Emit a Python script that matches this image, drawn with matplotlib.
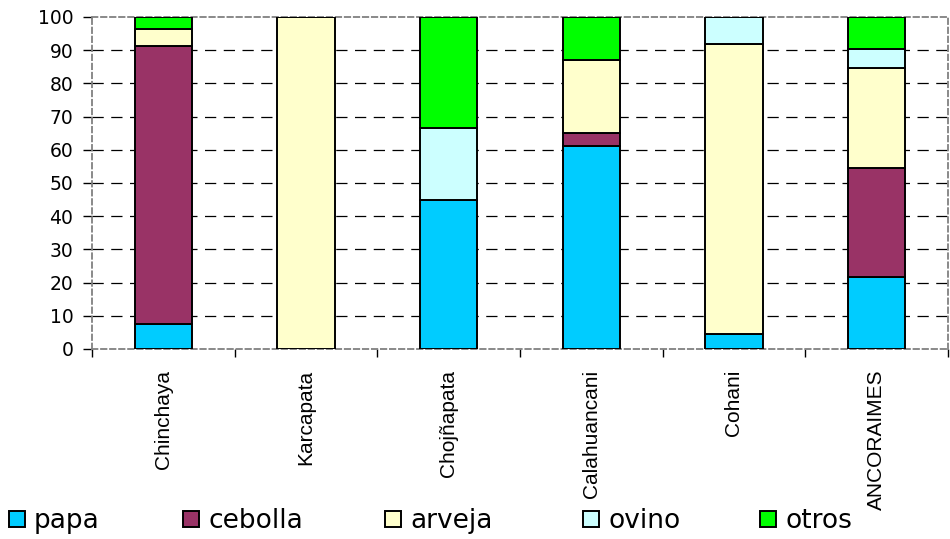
import matplotlib
matplotlib.use("Agg")
import matplotlib.pyplot as plt
import numpy as np

categories = ["Chinchaya", "Karcapata", "Chojñapata", "Calahuancani", "Cohani", "ANCORAIMES"]
series_names = ["papa", "cebolla", "arveja", "ovino", "otros"]
papa    = [7.4,   0.0, 44.8, 61.1,  4.4, 21.7]
cebolla = [83.9,  0.0,  0.0,  4.1,  0.0, 32.8]
arveja  = [5.1, 100.0,  0.0, 21.9, 87.6, 30.2]
ovino   = [0.0,   0.0, 21.9,  0.0,  8.0,  5.6]
otros   = [3.6,   0.0, 33.3, 12.9,  0.0,  9.7]
yticks = [0, 10, 20, 30, 40, 50, 60, 70, 80, 90, 100]

colors = ["#00CCFF", "#993366", "#FFFFCC", "#CCFFFF", "#00FF00"]

W, H = 950, 539
fig = plt.figure(figsize=(W / 100, H / 100), dpi=100)
ax = fig.add_axes([92 / W, (H - 349) / H, (948 - 92) / W, (349 - 17) / H])

x = np.arange(len(categories))
bottom = np.zeros(len(categories))
containers = []
for name, vals, c in zip(series_names, [papa, cebolla, arveja, ovino, otros], colors):
    vals = np.array(vals)
    b = ax.bar(x, vals, width=0.4, bottom=bottom, color=c, edgecolor="black",
               linewidth=1.4, label=name, zorder=3)
    containers.append(b)
    bottom += vals

ax.set_xlim(-0.5, len(categories) - 0.5)
ax.set_ylim(0, 100)

# grid
for v in yticks[1:-1]:
    ax.axhline(v, color="black", linestyle=(0, (9, 6)), linewidth=0.9, zorder=1)

for s in ax.spines.values():
    s.set_color("#808080")
    s.set_linestyle((0, (3, 2)))
    s.set_linewidth(1.3)

ax.set_yticks(yticks)
ax.set_yticklabels([str(v) for v in yticks], fontfamily="DejaVu Sans", fontsize=13.5)
ax.tick_params(axis="y", direction="out", length=6.5, width=1, color="black", pad=7)

ax.set_xticks(x)
ax.set_xticklabels(categories, rotation=90, fontfamily="Liberation Sans", fontsize=15)
ax.tick_params(axis="x", which="major", length=0, pad=15)
ax.set_xticks(np.arange(-0.5, len(categories) + 0.5, 1.0), minor=True)
ax.tick_params(axis="x", which="minor", direction="out", length=5.5, width=1, color="black")

# legend entries
leg_x = [9, 183, 385, 583, 760]
for cont, name, lx in zip(containers, series_names, leg_x):
    fig.legend(handles=[cont], labels=[name], loc="center left",
               bbox_to_anchor=(lx / W, 0.033), frameon=False,
               borderpad=0, borderaxespad=0, handlelength=0.6, handleheight=0.6,
               handletextpad=0.35,
               prop={"family": "DejaVu Sans", "size": 19})

fig.savefig("out.png", dpi=100)
